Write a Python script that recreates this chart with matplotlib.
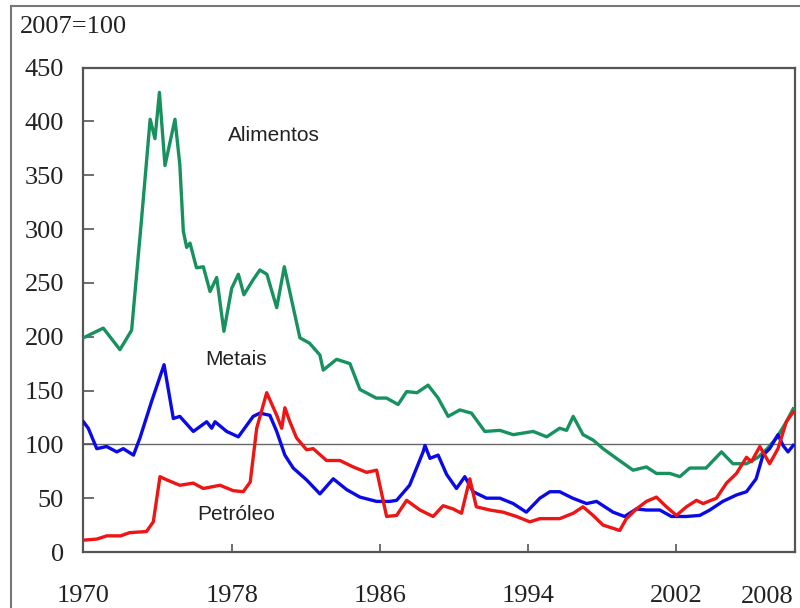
import matplotlib
matplotlib.use('Agg')
import matplotlib.pyplot as plt
from matplotlib.patches import Rectangle

# Índices de preços de commodities (2007=100)
ali_x = [1970.0, 1971.07, 1971.97, 1972.6, 1973.14, 1973.6, 1973.86, 1974.1, 1974.4,
         1974.94, 1975.2, 1975.39, 1975.57, 1975.75, 1976.1, 1976.47, 1976.83, 1977.19,
         1977.58, 1978.0, 1978.36, 1978.66, 1979.16, 1979.52, 1979.9, 1980.43, 1980.84,
         1981.68, 1982.2, 1982.76, 1982.94, 1983.66, 1984.38, 1984.92, 1985.8, 1986.36,
         1986.98, 1987.44, 1988.0, 1988.6, 1989.14, 1989.68, 1990.31, 1990.94, 1991.66,
         1992.47, 1993.19, 1994.27, 1995.0, 1995.7, 1996.07, 1996.43, 1996.96, 1997.5,
         1998.04, 1998.76, 1999.66, 2000.38, 2000.92, 2001.64, 2002.18, 2002.72, 2003.6,
         2004.43, 2005.05, 2005.78, 2006.4, 2006.9, 2007.4, 2007.9, 2008.3]
ali_y = [199, 208, 188, 206, 310, 402, 384, 427, 359,
         402, 360, 298, 283, 287, 264, 265, 242, 255,
         205, 245, 258, 239, 253, 262, 258, 227, 265,
         199, 194, 183, 169, 179, 175, 151, 143, 143,
         137, 149, 148, 155, 143, 126, 132, 129, 112,
         113, 109, 112, 107, 115, 113, 126, 109, 104,
         96, 87, 76, 79, 73, 73, 70, 78, 78,
         93, 82, 82, 88, 96, 106, 120, 133]

met_x = [1970.0, 1970.26, 1970.72, 1971.25, 1971.8, 1972.15, 1972.7, 1973.05, 1973.68,
         1974.35, 1974.85, 1975.2, 1975.93, 1976.65, 1976.92, 1977.1, 1977.73, 1978.36,
         1979.16, 1979.52, 1980.06, 1980.43, 1980.87, 1981.32, 1982.04, 1982.76, 1983.48,
         1984.2, 1984.92, 1985.82, 1986.54, 1986.9, 1987.6, 1988.33, 1988.43, 1988.7,
         1989.14, 1989.6, 1990.13, 1990.58, 1991.03, 1991.75, 1992.47, 1993.19, 1993.9,
         1994.63, 1995.17, 1995.7, 1996.4, 1997.15, 1997.69, 1998.58, 1999.2, 1999.84,
         2000.38, 2001.1, 2001.73, 2002.54, 2003.26, 2003.8, 2004.5, 2005.24, 2005.78,
         2006.3, 2006.67, 2007.03, 2007.48, 2007.75, 2008.02, 2008.3]
met_y = [121, 115, 96, 98, 93, 96, 90, 106, 140,
         174, 124, 126, 112, 121, 115, 121, 112, 107,
         126, 129, 127, 112, 90, 78, 67, 54, 68,
         58, 51, 47, 47, 48, 62, 93, 99, 87,
         90, 72, 59, 70, 56, 50, 50, 45, 37,
         50, 56, 56, 50, 45, 47, 37, 33, 40,
         39, 39, 33, 33, 34, 39, 47, 53, 56,
         68, 90, 96, 109, 99, 93, 99]

pet_x = [1970.0, 1970.72, 1971.26, 1972.0, 1972.5, 1973.4, 1973.77, 1974.13, 1974.5,
         1975.2, 1975.93, 1976.47, 1977.37, 1978.08, 1978.62, 1979.0, 1979.35, 1979.89,
         1980.43, 1980.7, 1980.87, 1981.14, 1981.5, 1982.04, 1982.4, 1983.12, 1983.84,
         1984.56, 1985.28, 1985.82, 1986.36, 1986.9, 1987.44, 1988.16, 1988.87, 1989.41,
         1989.95, 1990.4, 1990.85, 1991.2, 1991.93, 1992.65, 1993.37, 1994.09, 1994.63,
         1995.7, 1996.43, 1996.96, 1997.5, 1998.04, 1998.94, 1999.3, 1999.84, 2000.38,
         2000.92, 2001.46, 2002.0, 2002.54, 2003.08, 2003.44, 2004.16, 2004.7, 2005.24,
         2005.78, 2006.05, 2006.5, 2007.03, 2007.48, 2007.93, 2008.3]
pet_y = [11, 12, 15, 15, 18, 19, 28, 70, 67,
         62, 64, 59, 62, 57, 56, 65, 115, 148,
         127, 115, 134, 121, 106, 95, 96, 85, 85,
         79, 74, 76, 33, 34, 48, 39, 33, 43,
         40, 36, 68, 42, 39, 37, 33, 28, 31,
         31, 36, 42, 34, 25, 20, 31, 40, 47,
         51, 42, 34, 42, 48, 45, 50, 64, 73,
         88, 84, 98, 82, 96, 121, 130]

x_ticks = [1970, 1978, 1986, 1994, 2002]

C_ALI = '#17925f'
C_MET = '#0a0ae6'
C_PET = '#ee1515'
C_AX = '#555555'

fig = plt.figure(figsize=(8, 6.08), dpi=100)
ax = fig.add_axes([0.1043, 0.0921, 0.8895, 0.7967])

ax.axhline(100, color='#666666', lw=1.0, zorder=1)
ax.plot(ali_x, ali_y, color=C_ALI, lw=2.4, zorder=3)
ax.plot(met_x, met_y, color=C_MET, lw=2.4, zorder=4)
ax.plot(pet_x, pet_y, color=C_PET, lw=2.4, zorder=5)

ax.set_xlim(1970, 2008.4)
ax.set_ylim(0, 450)
ax.set_yticks(range(0, 451, 50))
ax.set_xticks(x_ticks)
ax.set_xticklabels([str(t) for t in x_ticks])

serif = 'Liberation Serif'
for lab in ax.get_xticklabels() + ax.get_yticklabels():
    lab.set_family(serif)
    lab.set_fontsize(19)
    lab.set_color('#222222')
ax.tick_params(axis='y', direction='in', length=8, width=1.2, color=C_AX, pad=14)
ax.tick_params(axis='x', direction='in', length=6, width=1.2, color=C_AX, pad=24)

ax.text(2006.9, -0.070, '2008', transform=ax.get_xaxis_transform(),
        ha='center', va='top', family=serif, fontsize=19, color='#222222')

for s in ax.spines.values():
    s.set_color(C_AX)
    s.set_linewidth(1.6)

ax.text(1980.28, 387, 'Alimentos', ha='center', va='center', fontsize=15,
        family='Liberation Sans', color='#222222')
ax.text(1978.23, 179, 'Metais', ha='center', va='center', fontsize=15,
        family='Liberation Sans', color='#222222')
ax.text(1978.23, 35, 'Petróleo', ha='center', va='center', fontsize=15,
        family='Liberation Sans', color='#222222')

fig.text(0.025, 0.955, '2007=100', ha='left', va='center', family=serif,
         fontsize=19, color='#222222')

# moldura externa (só as bordas esquerda e superior ficam visíveis)
fig.patches.append(Rectangle((11 / 800, -0.05), 1.1, 1.04 - 6 / 608 + 0.05 - 0.04,
                             transform=fig.transFigure, fill=False,
                             edgecolor='#777777', lw=1.5))

fig.savefig('out.png', dpi=100)
